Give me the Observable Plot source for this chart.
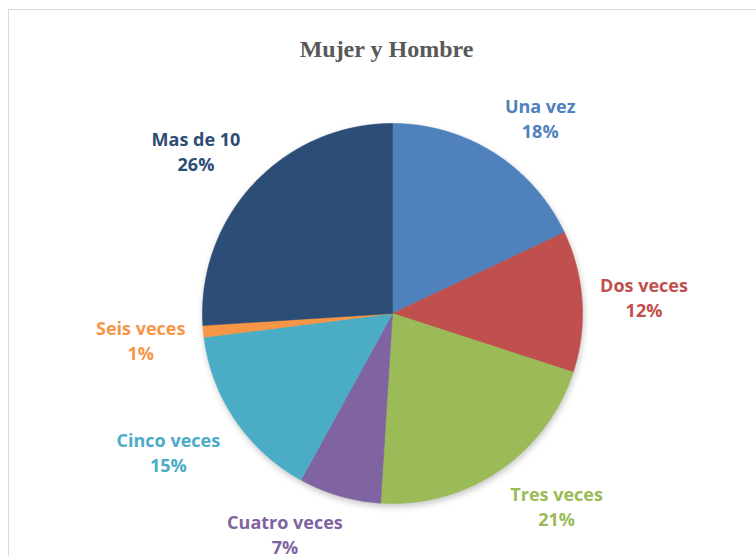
<!DOCTYPE html>
<html>
<head>
<meta charset="utf-8">
<script src="https://cdn.jsdelivr.net/npm/d3@7"></script>
<script src="https://cdn.jsdelivr.net/npm/@observablehq/plot@0.6"></script>
<style>
  html, body { margin: 0; padding: 0; background: #fff; overflow: hidden; width: 756px; height: 556px; }
  #frame { position: absolute; left: 8px; top: 9px; width: 757px; height: 600px; border: 1.5px solid #d9d9d9; box-sizing: border-box; }
  #title { position: absolute; left: 8px; top: 34px; width: 757px; text-align: center; font-family: "Liberation Serif", "Times New Roman", serif; font-weight: bold; font-size: 24px; line-height: 30px; color: #595959; }
  #chart { position: absolute; left: 0; top: 70px; }
  #chart svg { overflow: visible; }
</style>
</head>
<body>
<div id="frame"></div>
<div id="title">Mujer y Hombre</div>
<div id="chart"></div>
<script>
// ---- data ----
const categories = ["Una vez", "Dos veces", "Tres veces", "Cuatro veces", "Cinco veces", "Seis veces", "Mas de 10"];
const values = [18, 12, 21, 7, 15, 1, 26];
const percentLabels = ["18%", "12%", "21%", "7%", "15%", "1%", "26%"];
const colors = ["#4F81BD", "#C0504D", "#9BBB59", "#8064A2", "#4BACC6", "#F79646", "#2C4D75"];

// ---- layout ----
const W = 756, H = 486;
const CX = 392, CY = 243, R = 190;
const FONT_SIZE = 18, LINE_H = 25, HALF_BOX = 22;
const FONT = "'Open Sans', 'Noto Sans', sans-serif";

const pie = d3.pie().sort(null).value(d => d.value);
const arcs = pie(categories.map((name, i) => ({name, value: values[i], pct: percentLabels[i]})));

// slice outlines (unit-radius coordinates, from pie angles)
const slicePts = [];
for (const a of arcs) {
  slicePts.push({name: a.data.name, x: 0, y: 0});
  const n = Math.max(2, Math.ceil((a.endAngle - a.startAngle) / (Math.PI / 360)));
  for (let k = 0; k <= n; k++) {
    const t = a.startAngle + (a.endAngle - a.startAngle) * k / n;
    slicePts.push({name: a.data.name, x: Math.sin(t), y: Math.cos(t)});
  }
  slicePts.push({name: a.data.name, x: 0, y: 0});
}

// label positions: outside end, box placed beyond the arc
const ctx = document.createElement("canvas").getContext("2d");
ctx.font = `bold ${FONT_SIZE}px ${FONT}`;
const clamp = v => Math.max(-1, Math.min(1, v));
const labels = arcs.map(a => {
  const m = (a.startAngle + a.endAngle) / 2;
  const tw = Math.max(ctx.measureText(a.data.name).width, ctx.measureText(a.data.pct).width);
  const hw = tw / 2 + 2, hh = HALF_BOX;
  const d = R + 16;
  const ux = Math.sin(m), uy = Math.cos(m);
  return {
    name: a.data.name,
    text: a.data.name + "\n" + a.data.pct,
    x: (d * ux + hw * clamp(3 * ux)) / R,
    y: (d * uy + hh * clamp(3 * uy)) / R
  };
});

const chart = Plot.plot({
  width: W,
  height: H,
  margin: 0,
  x: {domain: [-CX / R, (W - CX) / R], axis: null},
  y: {domain: [-(H - CY) / R, CY / R], axis: null},
  color: {domain: categories, range: colors},
  style: {background: "transparent"},
  marks: [
    Plot.line(slicePts, {x: "x", y: "y", z: "name", fill: "name", stroke: "name", strokeWidth: 0.6, curve: "linear"}),
    Plot.text(labels, {
      x: "x", y: "y", text: "text", fill: "name",
      fontSize: FONT_SIZE, fontWeight: "bold", fontFamily: FONT,
      lineHeight: LINE_H / FONT_SIZE, textAnchor: "middle"
    })
  ]
});
const pieGroup = chart.querySelector('g[aria-label="line"]');
if (pieGroup) pieGroup.style.filter = "drop-shadow(1px 3px 3px rgba(0,0,0,0.22))";
document.getElementById("chart").appendChild(chart);
</script>
</body>
</html>
